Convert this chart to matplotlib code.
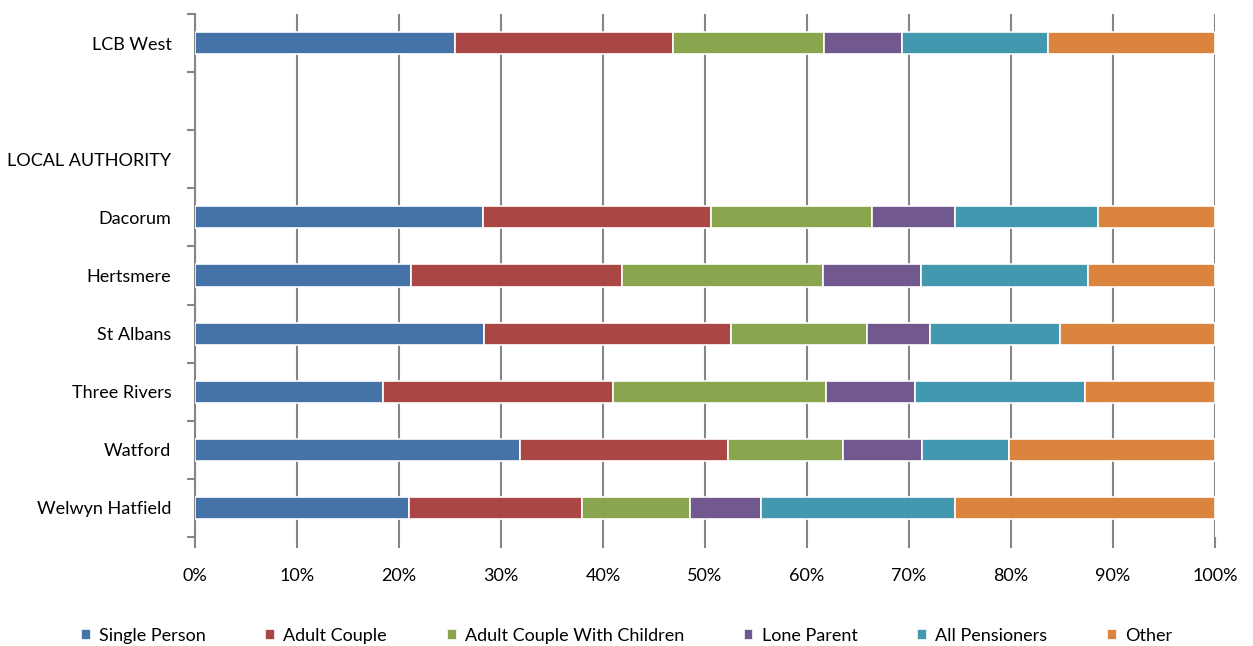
import matplotlib.pyplot as plt
import numpy as np

plt.rcParams['font.family'] = ['Lato', 'DejaVu Sans']

categories = ["LCB West", "", "LOCAL AUTHORITY", "Dacorum", "Hertsmere",
              "St Albans", "Three Rivers", "Watford", "Welwyn Hatfield"]
series = ["Single Person", "Adult Couple", "Adult Couple With Children",
          "Lone Parent", "All Pensioners", "Other"]
colors = ["#4572A7", "#AA4643", "#89A54E", "#71588F", "#4198AF", "#DB843D"]

# percentages per row (blank rows have no bars)
nan = np.nan
single = [25.5, nan, nan, 28.2, 21.2, 28.3, 18.4, 31.9, 21.0]
couple = [21.4, nan, nan, 22.4, 20.7, 24.2, 22.6, 20.4, 16.9]
couple_kids = [14.8, nan, nan, 15.8, 19.7, 13.4, 20.9, 11.2, 10.6]
lone = [7.6, nan, nan, 8.1, 9.6, 6.2, 8.7, 7.8, 7.0]
pensioners = [14.3, nan, nan, 14.0, 16.3, 12.7, 16.7, 8.5, 19.0]
other = [16.4, nan, nan, 11.5, 12.5, 15.2, 12.7, 20.2, 25.5]
values = [single, couple, couple_kids, lone, pensioners, other]

fig = plt.figure(figsize=(12.53, 6.46), dpi=100)
ax = fig.add_axes([195 / 1253, 1 - 537 / 646, 1020 / 1253, 523 / 646])

y = np.arange(len(categories))
left = np.zeros(len(categories))
for name, vals, c in zip(series, values, colors):
    vals = np.array(vals, dtype=float)
    ax.barh(y, vals, left=left, height=0.38, color=c, edgecolor="white",
            linewidth=1.2, label=name, zorder=3)
    left += np.nan_to_num(vals)

ax.set_xlim(0, 100)
ax.set_ylim(len(categories) - 0.5, -0.5)
ax.set_yticks(y)
ax.set_yticklabels(categories, fontsize=13)
ax.set_yticks(np.arange(-0.5, len(categories)), minor=True)
ax.tick_params(axis="y", which="major", length=0, pad=17)
ax.tick_params(axis="y", which="minor", length=6, width=1.5, color="#868686")
ax.set_xticks(np.arange(0, 101, 10))
ax.set_xticklabels([f"{v}%" for v in range(0, 101, 10)], fontsize=13)
ax.tick_params(axis="x", length=8, width=1.5, color="#868686", pad=14)
ax.grid(axis="x", color="#868686", linewidth=1.5, zorder=0)

for s in ["top", "right", "bottom"]:
    ax.spines[s].set_visible(False)
ax.spines["left"].set_color("#868686")
ax.spines["left"].set_linewidth(1.5)

fig.legend(loc="lower center", ncol=6, frameon=False, fontsize=13,
           bbox_to_anchor=(0.5, -0.022), handlelength=0.55, handleheight=0.55,
           handletextpad=0.45, columnspacing=3.3)

plt.savefig("out.png", dpi=100)
